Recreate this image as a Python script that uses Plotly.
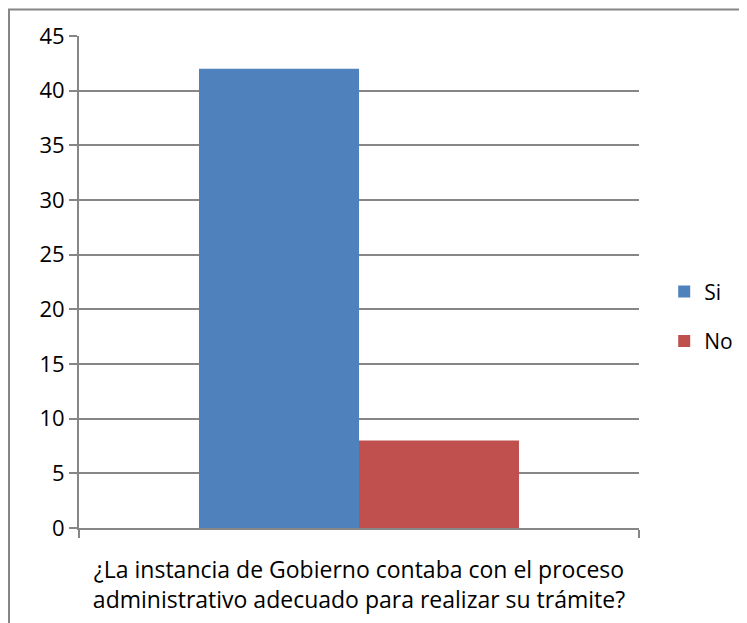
import plotly.graph_objects as go

BLUE = "#4F81BD"
RED = "#C0504D"
GRID = "#868686"

question = "¿La instancia de Gobierno contaba con el proceso<br>administrativo adecuado para realizar su trámite?"
series = ["Si", "No"]
values = [42, 8]
colors = [BLUE, RED]

fig = go.Figure()
for name, v, c in zip(series, values, colors):
    fig.add_trace(go.Bar(
        x=[question], y=[v], name=name,
        marker=dict(color=c, line=dict(width=0)),
        legendgroup=name,
    ))

# page body has an 8px margin, so the figure is sized/offset to compensate
fig.update_layout(
    barmode="group",
    bargap=0.4286,
    bargroupgap=0,
    width=739, height=615,
    plot_bgcolor="white", paper_bgcolor="white",
    font=dict(family="Open Sans, Calibri, sans-serif", size=22, color="black"),
    margin=dict(l=71, r=108, t=28, b=95, autoexpand=False),
    showlegend=True,
    legend=dict(
        x=1.045, y=0.43, xanchor="left", yanchor="middle",
        font=dict(size=21), tracegroupgap=19,
        itemwidth=30,
    ),
    xaxis=dict(
        showline=True, linecolor=GRID, linewidth=2,
        ticks="outside", tickson="boundaries", ticklen=8, tickcolor=GRID,
        tickwidth=2, tickfont=dict(size=23), showgrid=False,
        ticklabelstandoff=20, automargin=False,
    ),
    yaxis=dict(
        range=[0, 45], dtick=5, showline=True, linecolor=GRID, linewidth=2,
        ticks="outside", ticklen=8, tickcolor=GRID, tickwidth=2,
        showgrid=True, gridcolor=GRID, gridwidth=1.5, zeroline=False,
        tickfont=dict(size=22), automargin=False,
    ),
    shapes=[dict(
        type="rect", xref="paper", yref="paper",
        x0=-0.125, x1=1.19, y0=-0.3, y1=1.054,
        line=dict(color="#868686", width=2), layer="below",
    )],
)

fig.write_html("out.html")
